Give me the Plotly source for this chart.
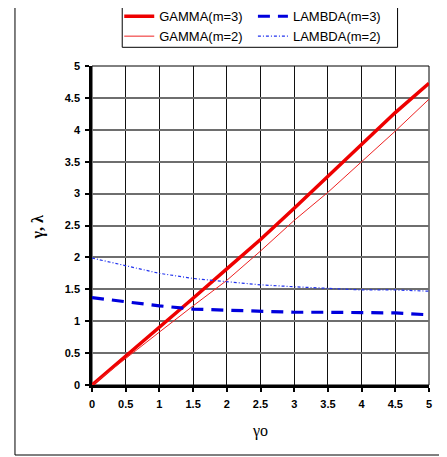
import plotly.graph_objects as go

x_vals = [0, 0.5, 1, 1.5, 2, 2.5, 3, 3.5, 4, 4.5, 5]
gamma_m3 = [0, 0.45, 0.90, 1.36, 1.82, 2.28, 2.77, 3.27, 3.78, 4.27, 4.73]
gamma_m2 = [0, 0.42, 0.83, 1.24, 1.64, 2.10, 2.58, 3.02, 3.50, 3.98, 4.48]
lambda_m3 = [1.37, 1.30, 1.24, 1.19, 1.17, 1.16, 1.14, 1.14, 1.13, 1.13, 1.10]
lambda_m2 = [1.99, 1.87, 1.75, 1.67, 1.62, 1.57, 1.54, 1.52, 1.49, 1.49, 1.47]
tick_vals = [0, 0.5, 1, 1.5, 2, 2.5, 3, 3.5, 4, 4.5, 5]
tick_text = ["0", "0.5", "1", "1.5", "2", "2.5", "3", "3.5", "4", "4.5", "5"]

# page has an 8px body margin; all positions below are screenshot pixels
OFF = 8
W, H = 447 - OFF, 457 - OFF
L = 91.7 - OFF
T = 66 - OFF
R = W - (429.5 - OFF)
B = H - (385 - OFF)

fig = go.Figure()
fig.add_trace(go.Scatter(x=x_vals, y=gamma_m3, mode="lines", name="GAMMA(m=3)",
                         line=dict(color="#ee0000", width=3.5), legend="legend"))
fig.add_trace(go.Scatter(x=x_vals, y=gamma_m2, mode="lines", name="GAMMA(m=2)",
                         line=dict(color="#ee2222", width=1), legend="legend"))
fig.add_trace(go.Scatter(x=x_vals, y=lambda_m3, mode="lines", name="LAMBDA(m=3)",
                         line=dict(color="#0000dd", width=3.2, dash="12px,8px"), legend="legend2"))
fig.add_trace(go.Scatter(x=x_vals, y=lambda_m2, mode="lines", name="LAMBDA(m=2)",
                         line=dict(color="#2233ee", width=1.2, dash="3px,2px,1px,2px"), legend="legend2"))

tickfont = dict(family="Liberation Sans, Arial", size=11, color="black", weight="bold")

fig.update_xaxes(range=[0, 5], tickvals=tick_vals, ticktext=tick_text,
                 showgrid=True, gridcolor="#111111", gridwidth=1,
                 showline=True, linecolor="black", linewidth=2.5,
                 ticks="outside", ticklen=4, tickwidth=2, tickcolor="black",
                 tickfont=tickfont, zeroline=False, fixedrange=True, automargin=False,
                 ticklabelstandoff=3)
fig.update_yaxes(range=[0, 5], tickvals=tick_vals, ticktext=tick_text,
                 showgrid=True, gridcolor="#6e6e6e", gridwidth=1.5,
                 showline=True, linecolor="black", linewidth=2.5,
                 ticks="outside", ticklen=4, tickwidth=2, tickcolor="black",
                 tickfont=tickfont, zeroline=False, fixedrange=True, automargin=False,
                 ticklabelstandoff=3)

pw = W - L - R
ph = H - T - B

def px_x(p):
    return (p - OFF - L) / pw

def px_y(p):
    return 1 - (p - OFF - T) / ph

shapes = [
    # outer frame
    dict(type="rect", xref="paper", yref="paper", x0=px_x(14.5), x1=px_x(460),
         y0=px_y(455), y1=px_y(4.5), line=dict(color="black", width=1), layer="below"),
    # legend box
    dict(type="rect", xref="paper", yref="paper", x0=px_x(122), x1=px_x(398),
         y0=px_y(47.3), y1=px_y(7.3), line=dict(color="black", width=1), layer="below"),
    # plot frame top/right
    dict(type="rect", xref="paper", yref="paper", x0=0, x1=1, y0=0, y1=1,
         line=dict(color="black", width=1), layer="below"),
]

legfont = dict(family="Liberation Sans, Arial", size=13, color="black")

fig.update_layout(
    width=W, height=H,
    margin=dict(l=L, r=R, t=T, b=B, pad=0, autoexpand=False),
    plot_bgcolor="white", paper_bgcolor="white",
    showlegend=True,
    legend=dict(x=px_x(119), y=px_y(1.3), xanchor="left", yanchor="top",
                bgcolor="rgba(0,0,0,0)", borderwidth=0, font=legfont,
                tracegroupgap=0, itemwidth=30),
    legend2=dict(x=px_x(253), y=px_y(1.3), xanchor="left", yanchor="top",
                 bgcolor="rgba(0,0,0,0)", borderwidth=0, font=legfont,
                 tracegroupgap=0, itemwidth=30),
    shapes=shapes,
    annotations=[
        dict(text="<b>γ, λ</b>", xref="paper", yref="paper", x=px_x(38), y=px_y(227),
             showarrow=False, textangle=-90, xanchor="center", yanchor="middle",
             font=dict(family="Liberation Serif, Times New Roman", size=16, color="black")),
        dict(text="γo", xref="paper", yref="paper", x=px_x(260.5), y=px_y(431),
             showarrow=False, xanchor="center", yanchor="middle",
             font=dict(family="Liberation Serif, Times New Roman", size=16, color="black")),
    ],
)

fig.write_html("out.html")
